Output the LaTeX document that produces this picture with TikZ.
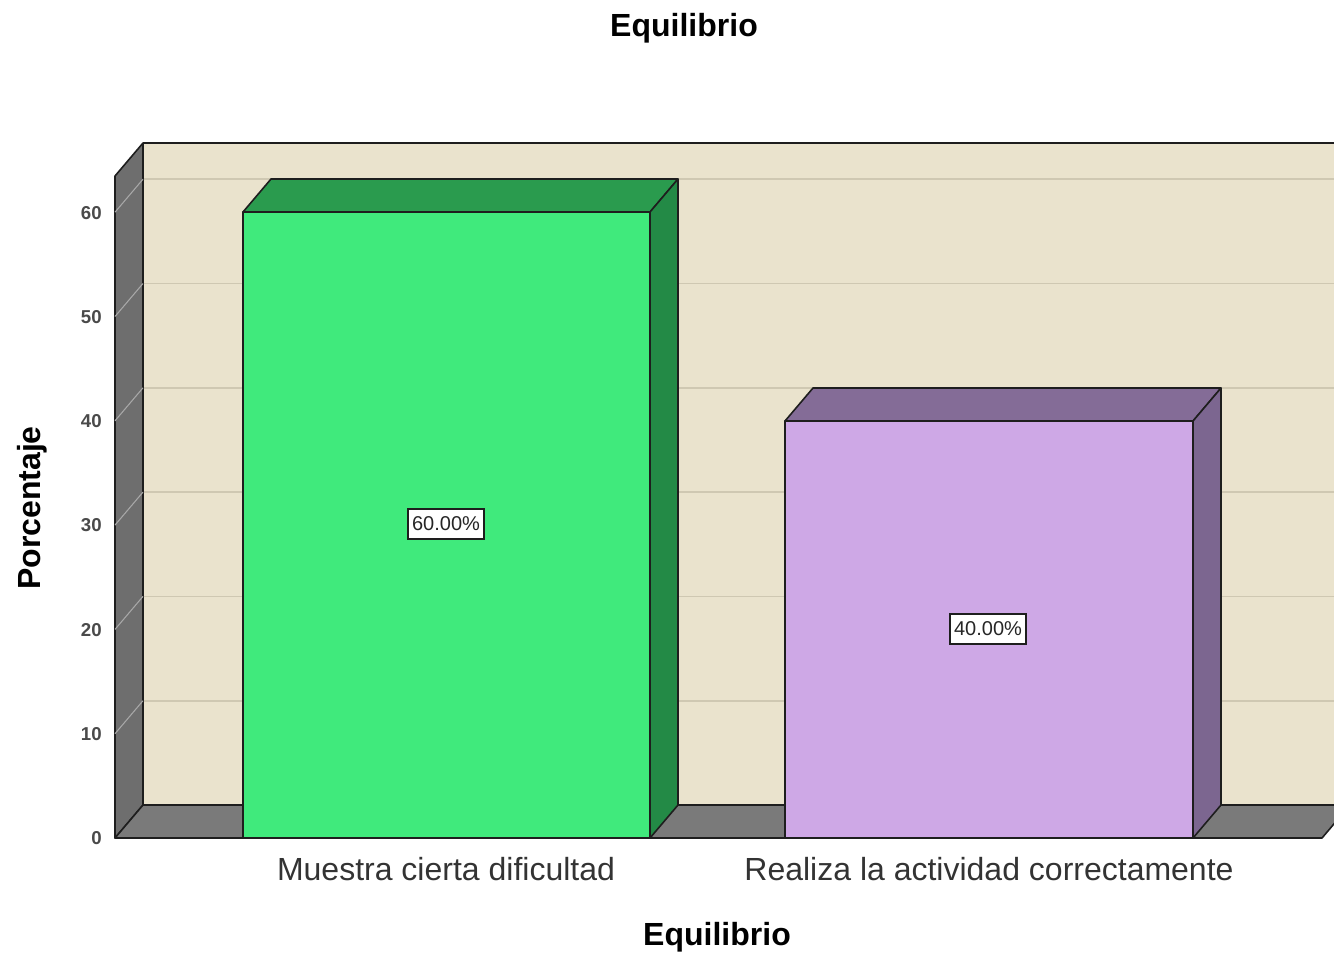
\documentclass[tikz,border=0pt]{standalone}
\usepackage{fontspec}
\setmainfont{Liberation Sans}
\definecolor{wallc}{HTML}{EAE3CD}
\definecolor{gridc}{HTML}{CFC8B2}
\definecolor{floorc}{HTML}{7A7A7A}
\definecolor{sidec}{HTML}{6E6E6E}
\definecolor{gfront}{HTML}{40EA7C}
\definecolor{gtop}{HTML}{2A9B4E}
\definecolor{gside}{HTML}{238A46}
\definecolor{pfront}{HTML}{CEA8E6}
\definecolor{ptop}{HTML}{846C97}
\definecolor{pside}{HTML}{7C6690}
\definecolor{edgec}{HTML}{1E1E1E}
\definecolor{tickc}{HTML}{4A4A4A}
\begin{document}
\begin{tikzpicture}[x=0.75pt,y=-0.75pt,
  face/.style={draw=edgec,line width=1.2pt,line join=round},
  gridline/.style={draw=gridc,line width=1.2pt},
  sidegrid/.style={draw=sidec!60!white,line width=0.8pt},
  ticklabel/.style={anchor=east,text=tickc,font=\bfseries\fontsize{14}{16}\selectfont,inner sep=0pt},
  datalabel/.style={draw=edgec,fill=white,line width=1pt,font=\fontsize{15}{18}\selectfont,inner xsep=3pt,inner ysep=6pt,text=black!85},
  catlabel/.style={font=\fontsize{24}{28}\selectfont,text=black!80,inner sep=0pt},
  titlelabel/.style={font=\bfseries\fontsize{24}{28}\selectfont,inner sep=0pt}]
\useasboundingbox (0,0) rectangle (1334,954);
% back wall
\fill[wallc] (143,143) rectangle (1334,805);
\foreach \v in {10,20,30,40,50,60}{
  \draw[gridline] (143,{805-10.43*\v}) -- (1334,{805-10.43*\v});
}
\draw[edgec,line width=1.2pt] (143,143) -- (1334,143);
% side wall
\path[face,fill=sidec] (115,176) -- (143,143) -- (143,805) -- (115,838) -- cycle;
\foreach \v in {10,20,30,40,50,60}{
  \draw[sidegrid] (115,{838-10.43*\v}) -- (143,{805-10.43*\v});
}
% floor
\path[face,fill=floorc] (115,838) -- (143,805) -- (1350,805) -- (1322,838) -- cycle;
% green bar
\path[face,fill=gtop] (243,212) -- (271,179) -- (678,179) -- (650,212) -- cycle;
\path[face,fill=gside] (650,212) -- (678,179) -- (678,805) -- (650,838) -- cycle;
\path[face,fill=gfront] (243,212) rectangle (650,838);
% purple bar
\path[face,fill=ptop] (785,421) -- (813,388) -- (1221,388) -- (1193,421) -- cycle;
\path[face,fill=pside] (1193,421) -- (1221,388) -- (1221,805) -- (1193,838) -- cycle;
\path[face,fill=pfront] (785,421) rectangle (1193,838);
% data labels
\node[datalabel] (lg) at (446,524) {60.00\%};
\node[datalabel] (lp) at (988,629) {40.00\%};
% tick labels
\node[ticklabel] (t0) at (102,838) {0};
\node[ticklabel] (t10) at (102,734) {10};
\node[ticklabel] (t20) at (102,630) {20};
\node[ticklabel] (t30) at (102,525) {30};
\node[ticklabel] (t40) at (102,421) {40};
\node[ticklabel] (t50) at (102,317) {50};
\node[ticklabel] (t60) at (102,213) {60};
% category labels
\node[catlabel] (c1) at (446,869) {Muestra cierta dificultad};
\node[catlabel] (c2) at (989,869) {Realiza la actividad correctamente};
% titles
\node[titlelabel] (title) at (684,28) {Equilibrio};
\node[titlelabel] (xtitle) at (717,937) {Equilibrio};
\node[titlelabel,rotate=90] (ytitle) at (32,508) {Porcentaje};
\end{tikzpicture}
\end{document}
